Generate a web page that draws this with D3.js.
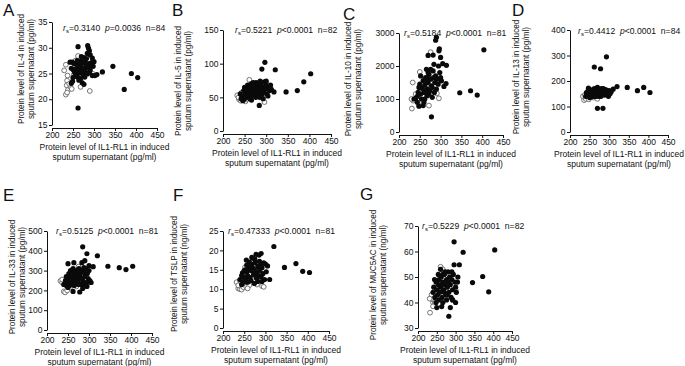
<!DOCTYPE html>
<html>
<head>
<meta charset="utf-8">
<script src="https://cdn.jsdelivr.net/npm/d3@7"></script>
<style>
  body { margin: 0; background: #fff; }
  svg text { font-family: "Liberation Sans", Arial, sans-serif; fill: #111; }
</style>
</head>
<body>
<svg id="fig" width="685" height="366"></svg>
<script>
// shared x axis (IL1-RL1, pg/ml)
const xDomain = [200, 450];
const xTicks = [200, 250, 300, 350, 400, 450];
const xTitle = ["Protein level of IL1-RL1 in induced", "sputum supernatant (pg/ml)"];

// A: IL-4
const il4Filled = [[262,30.2],[285,30.4],[287,29.9],[289,29.4],[291,28.6],[284,28.9],[276,28.1],[270,28.3],[282,27.9],[296,28.0],[300,27.3],[243,27.2],[248,27.2],[253,26.9],[258,27.0],[264,26.7],[268,27.4],[274,27.1],[279,27.2],[288,26.9],[294,27.1],[246,26.0],[251,25.7],[256,25.9],[261,26.1],[266,26.3],[271,26.0],[276,25.8],[281,26.4],[286,26.1],[291,25.7],[298,26.4],[254,25.2],[259,25.0],[264,25.4],[269,25.1],[274,24.8],[279,25.3],[284,24.9],[289,25.2],[250,24.2],[255,24.5],[261,24.3],[268,24.0],[278,24.3],[249,23.5],[246,23.1],[264,23.7],[272,23.2],[276,22.9],[296,24.6],[302,24.6],[307,24.8],[320,25.3],[345,26.4],[372,21.9],[389,25.0],[404,24.2],[262,18.3],[283,26.8],[270,26.9],[292,26.5],[260,27.5]];
const il4Open = [[229,25.6],[233,26.7],[237,24.6],[236,23.6],[235,22.7],[238,21.8],[233,20.9],[236,21.3],[244,22.4],[241,23.0],[268,22.4],[290,21.6],[256,27.5],[272,27.9],[278,25.9],[298,24.9],[252,24.8],[262,28.4],[247,22.0]];

// B: IL-5
const il5Filled = [[297,102],[290,92],[321,91],[403,85],[387,73],[372,60],[346,58],[284,38],[240,55],[244,52],[248,60],[250,65],[252,58],[255,62],[257,68],[260,55],[262,48],[265,70],[267,64],[270,58],[272,52],[274,67],[277,72],[279,62],[281,55],[283,68],[285,50],[287,60],[289,72],[291,65],[294,58],[297,62],[299,68],[302,55],[305,63],[308,60],[310,68],[296,73],[286,74],[264,60],[258,50],[250,48],[246,45],[276,50],[281,70],[291,55],[270,66],[260,62],[255,56],[248,52],[242,48],[304,52],[312,62],[318,58],[300,74],[270,72],[276,60],[264,54],[266,46],[253,53],[280,58],[293,48],[286,64],[262,66]];
const il5Open = [[233,53],[237,47],[241,45],[246,46],[252,44],[236,50],[262,50],[270,54],[296,43],[261,76],[255,47],[300,70],[280,66],[289,60],[250,54],[243,57]];

// C: IL-10
const il10Filled = [[288,2780],[290,2870],[297,2520],[296,2460],[300,2260],[270,2320],[282,2330],[305,2070],[314,2020],[404,2490],[346,1190],[372,1250],[388,1120],[308,1380],[313,1470],[278,460],[240,1020],[244,1080],[246,1200],[248,1350],[250,1450],[252,1150],[254,1000],[256,1320],[258,1560],[260,1200],[262,1420],[264,1650],[266,1900],[268,1300],[268,1100],[270,1500],[272,1750],[274,1250],[276,1600],[278,1400],[280,1050],[282,1850],[284,2050],[286,1500],[288,1700],[290,1300],[292,1600],[294,1450],[298,1800],[300,1650],[302,1550],[258,800],[248,780],[252,1700],[262,1000],[266,1550],[272,1150],[276,1900],[280,1350],[260,900],[270,1800],[285,1200],[295,2000],[236,1000],[244,900],[264,1250],[270,1650],[283,1650]];
const il10Open = [[233,1500],[250,1820],[291,1170],[296,1020],[248,820],[231,710],[234,950],[230,1000],[276,2420],[266,1400],[272,800],[262,1350],[240,1150],[256,1100]];

// D: IL-13
const il13Filled = [[293,295],[262,255],[278,248],[270,93],[284,93],[346,175],[372,162],[388,175],[404,155],[320,178],[310,168],[240,140],[243,150],[246,160],[248,145],[250,135],[252,155],[254,165],[256,148],[258,140],[260,158],[262,170],[264,150],[266,143],[268,160],[270,175],[272,152],[274,140],[276,165],[278,155],[280,148],[282,160],[284,170],[286,152],[288,145],[290,158],[292,165],[294,150],[296,160],[298,155],[300,162],[302,150],[305,158],[247,172],[255,138],[263,145],[271,160],[279,140],[287,168],[295,145],[265,165],[275,150],[285,158],[258,150],[250,162],[268,140],[280,170],[298,140],[242,155],[262,140],[290,148],[272,168]];
const il13Open = [[233,140],[236,125],[240,130],[244,138],[238,145],[248,128],[252,142],[260,135],[270,130],[256,150]];

// E: IL-33
const il33Filled = [[285,420],[295,385],[320,375],[345,322],[372,315],[388,305],[404,322],[250,335],[264,340],[283,340],[290,350],[300,325],[310,320],[278,192],[262,195],[240,230],[244,250],[246,270],[248,240],[250,260],[252,285],[254,225],[256,300],[258,270],[260,245],[262,310],[264,260],[266,290],[268,235],[270,300],[272,275],[274,250],[276,310],[278,280],[280,230],[282,300],[284,260],[286,245],[288,290],[290,270],[292,310],[294,240],[296,285],[298,260],[300,300],[302,250],[305,240],[255,245],[265,225],[275,230],[285,210],[295,220],[270,260],[260,285],[250,215],[280,265],[290,230],[246,225],[266,270],[276,290],[288,315]];
const il33Open = [[232,248],[236,240],[240,195],[243,190],[248,200],[255,215],[270,220],[295,230],[300,245],[262,300],[275,320],[236,255],[252,235],[264,240],[285,245]];

// F: TSLP
const tslpFilled = [[320,21.0],[345,15.6],[372,16.6],[388,14.6],[404,14.3],[310,12.5],[300,16.5],[278,19.0],[285,18.8],[290,19.2],[255,17.5],[268,18.2],[275,17.8],[240,12.5],[244,13.5],[246,14.2],[248,11.8],[250,13.0],[252,15.0],[254,12.8],[256,14.5],[258,13.5],[260,16.0],[262,15.2],[264,13.0],[266,14.8],[268,16.5],[270,15.5],[272,13.8],[274,15.0],[276,16.8],[278,14.2],[280,12.8],[282,15.8],[284,13.5],[286,14.8],[288,16.2],[290,13.2],[292,15.5],[294,14.0],[296,16.8],[298,12.5],[302,14.5],[305,16.0],[258,11.8],[266,12.2],[274,11.5],[282,12.0],[262,17.0],[270,18.0],[286,17.2],[250,14.8],[244,11.2],[278,13.0],[292,12.0],[264,16.5],[256,16.2]];
const tslpOpen = [[232,11.8],[236,10.2],[240,10.0],[244,9.9],[248,10.5],[255,10.6],[262,11.0],[292,10.8],[296,10.6],[252,15.7],[240,12.2],[248,11.5],[236,11.0],[258,10.2],[280,11.2]];

// G: MUC5AC
const muc5acFilled = [[296,63.8],[320,59.7],[404,60.6],[372,50.2],[345,47.8],[388,44.2],[282,34.6],[263,38.4],[250,38.0],[300,46.0],[310,54.8],[296,54.8],[305,48.0],[290,52.0],[240,44],[242,46],[245,42],[248,48],[250,45],[252,43],[254,47],[256,49],[258,44],[260,46],[262,50],[264,42],[266,48],[268,45],[270,51],[272,47],[274,43],[276,49],[278,46],[280,52],[282,44],[284,50],[286,47],[288,42],[290,49],[292,45],[294,51],[298,48],[302,44],[306,50],[256,41],[266,40],[276,41],[286,38],[260,53],[270,44],[280,48],[248,40],[244,49],[292,41],[300,40],[254,51],[272,52],[262,47],[278,43],[266,51]];
const muc5acOpen = [[232,36],[237,42],[240,40],[242,41],[236,41.5],[245,39.8],[248,44],[260,54],[266,53],[300,45],[292,41],[236,43],[231,41.5],[240,38.5],[255,42]];

const panels = [
  { id: "A", yLab: ["Protein level of IL-4 in induced", "sputum supernatant (pg/ml)"], yDomain: [15, 35], yTicks: [15, 20, 25, 30, 35],
    r: "0.3140", p: "=0.0036", n: 84, filled: il4Filled, open: il4Open,
    x0: 52, x1: 157, yTop: 22, yBot: 125, lx: 3, ly: 16, tx: 21, ty: 69, sx: 63, sy: 31 },
  { id: "B", yLab: ["Protein level of IL-5 in induced", "sputum supernatant (pg/ml)"], yDomain: [0, 150], yTicks: [0, 50, 100, 150],
    r: "0.5221", p: "<0.0001", n: 82, filled: il5Filled, open: il5Open,
    x0: 223, x1: 331, yTop: 30, yBot: 131, lx: 172, ly: 16, tx: 178, ty: 81, sx: 235, sy: 33 },
  { id: "C", yLab: ["Protein level of IL-10 in induced", "sputum supernatant (pg/ml)"], yDomain: [0, 3000], yTicks: [0, 1000, 2000, 3000],
    r: "0.5184", p: "<0.0001", n: 81, filled: il10Filled, open: il10Open,
    x0: 399, x1: 503, yTop: 33, yBot: 132, lx: 343, ly: 20, tx: 348, ty: 79, sx: 404, sy: 36 },
  { id: "D", yLab: ["Protein level of IL-13 in induced", "sputum supernatant (pg/ml)"], yDomain: [0, 400], yTicks: [0, 100, 200, 300, 400],
    r: "0.4412", p: "<0.0001", n: 84, filled: il13Filled, open: il13Open,
    x0: 570, x1: 668, yTop: 30, yBot: 132, lx: 512, ly: 16, tx: 516, ty: 77, sx: 578, sy: 34 },
  { id: "E", yLab: ["Protein level of IL-33 in induced", "sputum supernatant (pg/ml)"], yDomain: [0, 500], yTicks: [0, 100, 200, 300, 400, 500],
    r: "0.5125", p: "<0.0001", n: 81, filled: il33Filled, open: il33Open,
    x0: 47, x1: 152, yTop: 231, yBot: 330, lx: 3, ly: 201, tx: 12, ty: 277, sx: 56, sy: 234 },
  { id: "F", yLab: ["Protein level of TSLP in induced", "sputum supernatant (ng/ml)"], yDomain: [0, 25], yTicks: [0, 5, 10, 15, 20, 25],
    r: "0.47333", p: "<0.0001", n: 81, filled: tslpFilled, open: tslpOpen,
    x0: 223, x1: 329, yTop: 231, yBot: 328, lx: 173, ly: 201, tx: 174, ty: 274, sx: 228, sy: 234 },
  { id: "G", yLab: ["Protein level of MUC5AC in induced", "sputum supernatant (ng/ml)"], yDomain: [30, 70], yTicks: [30, 40, 50, 60, 70],
    r: "0.5229", p: "<0.0001", n: 82, filled: muc5acFilled, open: muc5acOpen,
    x0: 418, x1: 512, yTop: 226, yBot: 328, lx: 360, ly: 200, tx: 373, ty: 275, sx: 422, sy: 229 }
];

const svg = d3.select("#fig");
svg.append("rect").attr("width", 685).attr("height", 366).attr("fill", "#fff");

panels.forEach((pn) => {
  const g = svg.append("g");
  const x = d3.scaleLinear().domain(xDomain).range([pn.x0, pn.x1]);
  const y = d3.scaleLinear().domain(pn.yDomain).range([pn.yBot, pn.yTop]);

  // y axis
  const ya = g.append("g")
    .attr("transform", `translate(${pn.x0},0)`)
    .call(d3.axisLeft(y).tickValues(pn.yTicks).tickFormat(d3.format("d"))
      .tickSize(3).tickSizeOuter(0).tickPadding(1.5));
  // x axis, Prism-style offset below the y axis
  const xa = g.append("g")
    .attr("transform", `translate(0,${pn.yBot + 3})`)
    .call(d3.axisBottom(x).tickValues(xTicks).tickFormat(d3.format("d"))
      .tickSize(3).tickSizeOuter(0).tickPadding(1));
  [ya, xa].forEach((a) => {
    a.selectAll("path,line").attr("stroke", "#111").attr("stroke-width", 1);
    a.selectAll("text").attr("font-size", 8.5).attr("fill", "#111")
      .attr("font-family", '"Liberation Sans", Arial, sans-serif');
  });

  // points: open first, filled on top
  g.append("g").selectAll("circle").data(pn.open).join("circle")
    .attr("cx", (d) => x(d[0])).attr("cy", (d) => y(d[1])).attr("r", 2.4)
    .attr("fill", "#fff").attr("stroke", "#666").attr("stroke-width", 0.9);
  g.append("g").selectAll("circle").data(pn.filled).join("circle")
    .attr("cx", (d) => x(d[0])).attr("cy", (d) => y(d[1])).attr("r", 2.6)
    .attr("fill", "#0a0a0a");

  // panel letter
  g.append("text").attr("x", pn.lx).attr("y", pn.ly).attr("font-size", 17).text(pn.id);

  // y title (two rotated lines)
  pn.yLab.forEach((t, i) => {
    g.append("text")
      .attr("transform", `translate(${pn.tx + i * 10},${pn.ty}) rotate(-90)`)
      .attr("dy", "0.35em").attr("text-anchor", "middle").attr("font-size", 8.2).text(t);
  });

  // x title
  const cx = (pn.x0 + pn.x1) / 2;
  xTitle.forEach((t, i) => {
    g.append("text").attr("x", cx).attr("y", pn.yBot + 25 + i * 10)
      .attr("text-anchor", "middle").attr("font-size", 8.5).text(t);
  });

  // stats
  const st = g.append("text").attr("x", pn.sx).attr("y", pn.sy).attr("font-size", 8.6)
    .attr("xml:space", "preserve");
  st.append("tspan").attr("font-style", "italic").text("r");
  st.append("tspan").attr("font-size", 6).attr("dy", 2).text("s");
  st.append("tspan").attr("dy", -2).text("=" + pn.r + "  ");
  st.append("tspan").attr("font-style", "italic").text("p");
  st.append("tspan").text(pn.p + "  n=" + pn.n);
});
</script>
</body>
</html>
